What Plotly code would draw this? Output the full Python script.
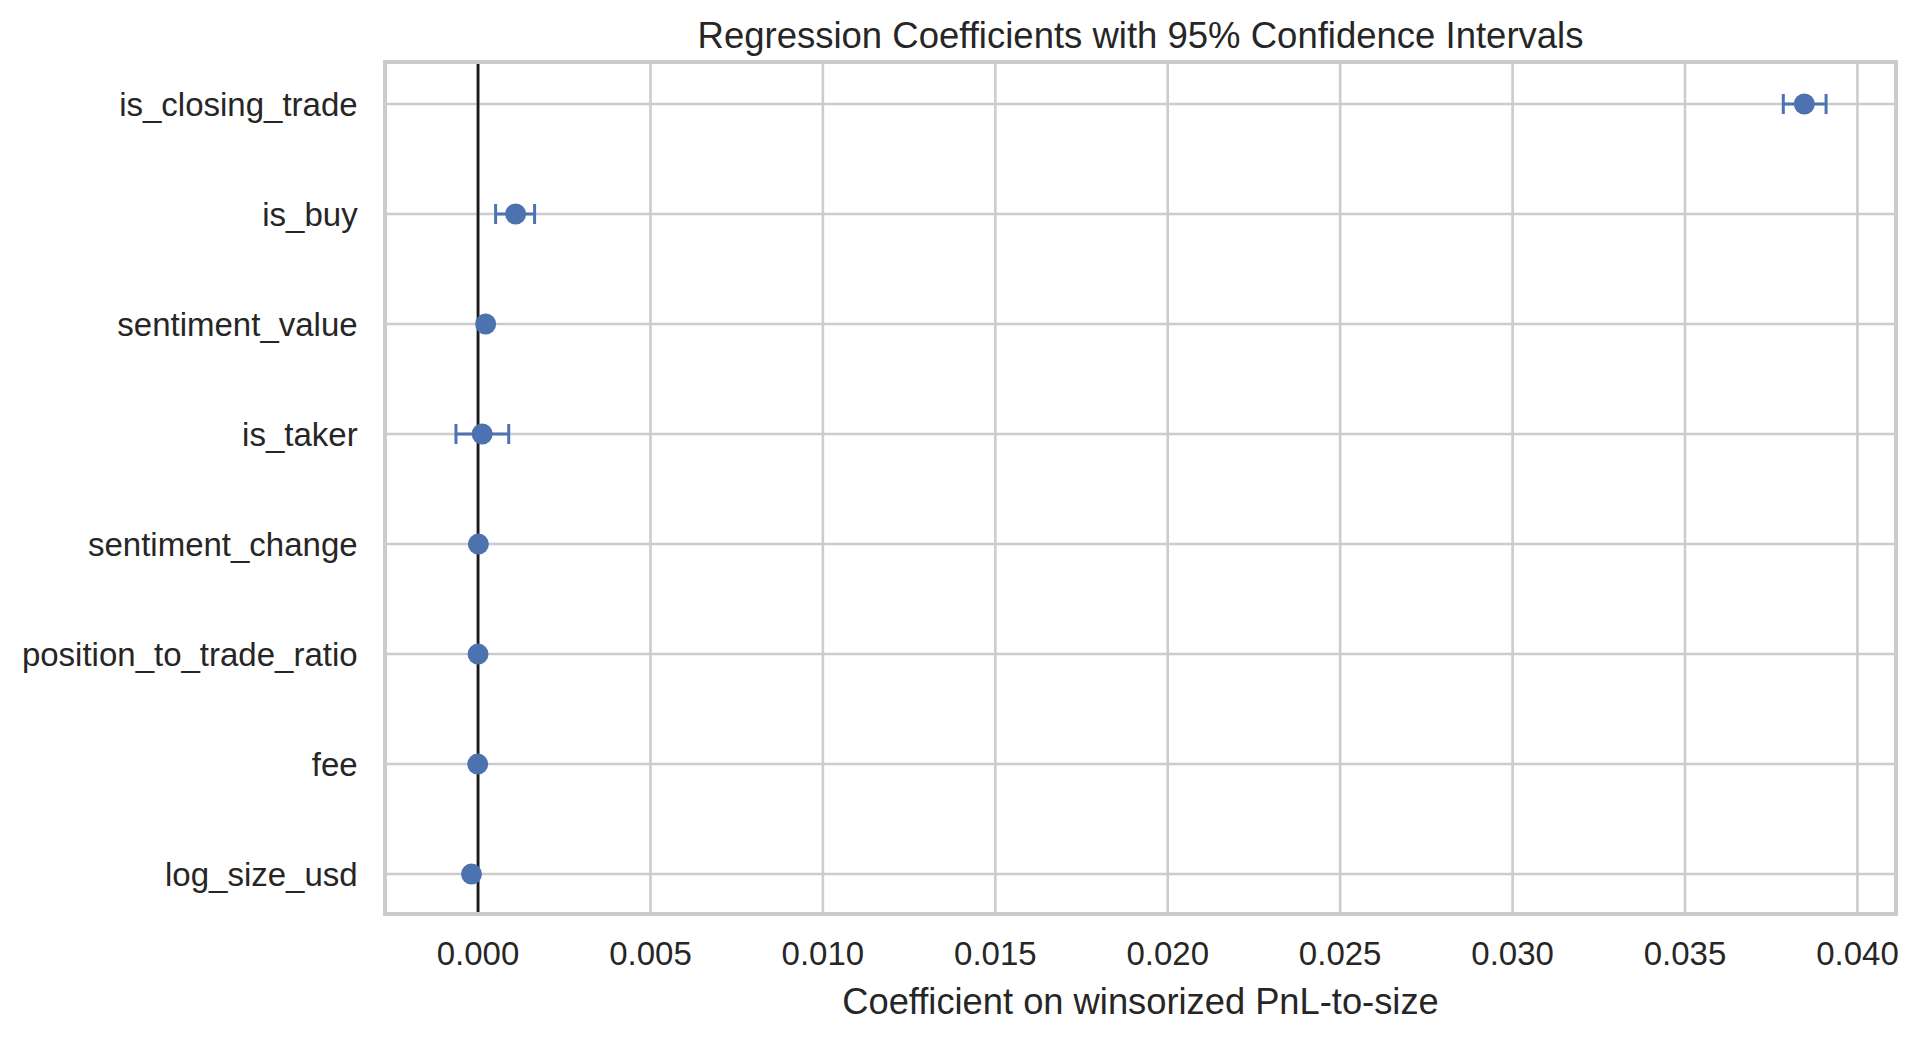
import plotly.graph_objects as go

# Data (top to bottom)
variables = ["is_closing_trade", "is_buy", "sentiment_value", "is_taker",
             "sentiment_change", "position_to_trade_ratio", "fee", "log_size_usd"]
coefs = [0.03846, 0.00109, 0.00022, 0.00012, 0.00001, 0.00000, -0.00001, -0.00019]
ci_low = [0.03785, 0.00051, 0.00019, -0.00064, 0.000005, -0.000005, -0.000015, -0.00021]
ci_high = [0.03909, 0.00164, 0.00025, 0.00089, 0.000015, 0.000005, -0.000005, -0.00017]
x_ticks = [0.000, 0.005, 0.010, 0.015, 0.020, 0.025, 0.030, 0.035, 0.040]

err_plus = [h - c for h, c in zip(ci_high, coefs)]
err_minus = [c - l for c, l in zip(coefs, ci_low)]

BLUE = "#4C72B0"
GRID = "#cccccc"
TEXT = "#262626"
FONT = "Liberation Sans, Arial, sans-serif"

L, R, T, B = 379, 34, 56, 134

fig = go.Figure()
fig.add_trace(go.Scatter(
    x=coefs, y=variables, mode="markers",
    marker=dict(color=BLUE, size=21, line=dict(width=0)),
    error_x=dict(type="data", symmetric=False, array=err_plus, arrayminus=err_minus,
                 color=BLUE, thickness=3, width=10),
    showlegend=False,
))

# grid lines drawn as shapes so the zero reference line can sit on top of them
for xv in x_ticks:
    fig.add_shape(type="line", xref="x", yref="paper", x0=xv, x1=xv, y0=0, y1=1,
                  line=dict(color=GRID, width=2.6), layer="below")
for v in variables:
    fig.add_shape(type="line", xref="paper", yref="y", x0=0, x1=1, y0=v, y1=v,
                  line=dict(color=GRID, width=2.6), layer="below")
fig.add_shape(type="line", xref="x", yref="paper", x0=0, x1=0, y0=0, y1=1,
              line=dict(color="#1a1a1a", width=2.8), layer="below")

fig.update_layout(
    width=1920, height=1038,
    margin=dict(l=L, r=R, t=T, b=B),
    paper_bgcolor="white", plot_bgcolor="white",
    font=dict(family=FONT, color=TEXT),
    title=dict(text="Regression Coefficients with 95% Confidence Intervals",
               x=(L + 1920 - R) / 2 / 1920, xanchor="center",
               y=1 - 27 / 1038, yanchor="middle", yref="container",
               font=dict(size=36.5, color=TEXT, family=FONT)),
)

fig.update_xaxes(
    range=[-0.00264, 0.04106],
    tickvals=x_ticks, ticktext=[f"{v:.3f}" for v in x_ticks],
    showgrid=False,
    zeroline=False,
    showline=True, linecolor=GRID, linewidth=3.5, mirror=True,
    ticks="", ticklabelstandoff=10,
    tickfont=dict(size=33, color=TEXT, family=FONT),
    title=dict(text="Coefficient on winsorized PnL-to-size",
               font=dict(size=36.3, color=TEXT, family=FONT), standoff=18),
)
fig.update_yaxes(
    categoryorder="array", categoryarray=variables,
    range=[7.345, -0.364],
    showgrid=False,
    zeroline=False,
    showline=True, linecolor=GRID, linewidth=3.5, mirror=True,
    ticks="", ticklabelstandoff=19,
    tickfont=dict(size=33, color=TEXT, family=FONT),
)

fig.write_html("out.html")
